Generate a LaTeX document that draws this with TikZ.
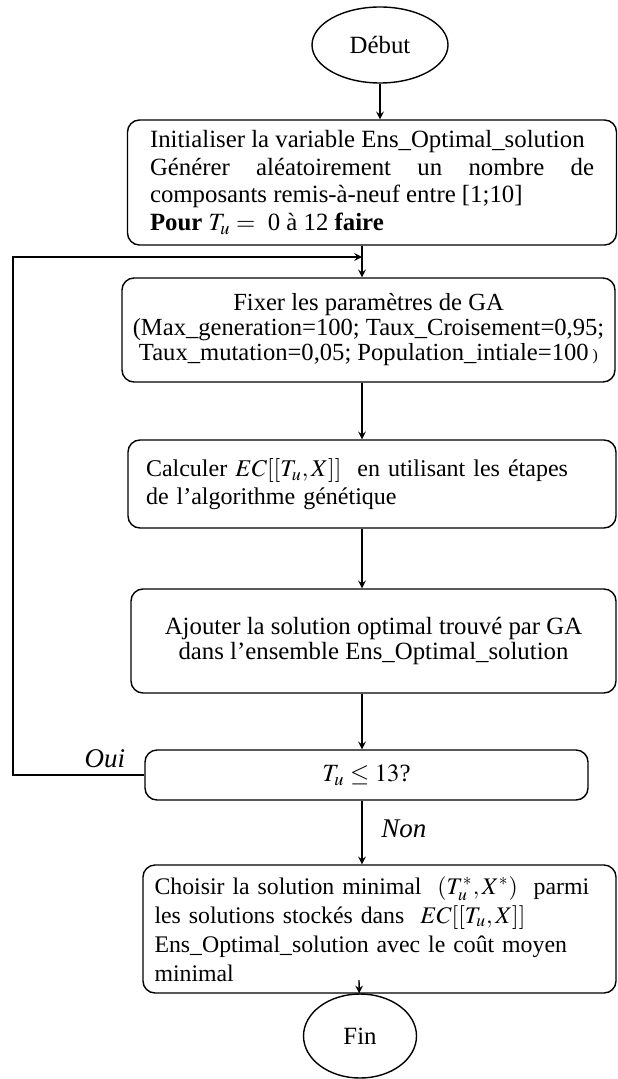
\documentclass[tikz,border=0pt]{standalone}
\usepackage{mathptmx}
\usepackage{fontspec}
\setmainfont{Liberation Serif}
\usepackage{tikz}
\usetikzlibrary{shapes, arrows, positioning}

\begin{document}
\begin{tikzpicture}[x=0.5pt, y=-0.5pt, font=\fontsize{12.4}{13.8}\selectfont]

\tikzstyle{terminal} = [ellipse, draw=black, line width=0.7pt, inner sep=0pt]
\tikzstyle{process} = [rectangle, rounded corners=6pt, draw=black, line width=0.7pt, inner sep=0pt]
\tikzstyle{arrow} = [line width=0.7pt, ->, >=stealth]
\tikzstyle{answer} = [font=\fontsize{13.5}{14}\selectfont\itshape]

\useasboundingbox (0,0) rectangle (617,1079);

% start
\node (debut)[terminal, minimum width=68pt, minimum height=38pt] at (380,45) {Début};

% init
\node (init)[process, minimum width=244.5pt, minimum height=62.5pt, text width=222pt, align=justify] at (372,182.5){
    Initialiser la variable Ens\_Optimal\_solution\\
    Générer aléatoirement un nombre de\linebreak
    composants remis-à-neuf entre [1;10]\\
    \textbf{Pour} $T_u =$~~0 à 12 \textbf{faire}
};

% GA parameters
\node (fixer)[process, minimum width=246.5pt, minimum height=52pt, align=center, font=\fontsize{12.3}{12.5}\selectfont] at (368.5,330){
    Fixer les paramètres de GA\\
    (Max\_generation=100; Taux\_Croisement=0,95;\\
    Taux\_mutation=0,05; Population\_intiale=100\,{\footnotesize)}
};

% GA steps
\node (calc)[process, minimum width=244pt, minimum height=44pt, text width=226pt, align=left, font=\fontsize{12}{14}\selectfont] at (372,484){
    Calculer~$EC[[T_u,X]]$~~en utilisant les étapes\\
    de l'algorithme génétique
};

\node (ajout)[process, minimum width=242.5pt, minimum height=52pt, align=center, font=\fontsize{12.4}{12.5}\selectfont] at (373.5,641){
    Ajouter la solution optimal trouvé par GA\\
    dans l'ensemble Ens\_Optimal\_solution
};

% test
\node (dec)[process, minimum width=221.5pt, minimum height=25pt] at (366.5,775){$T_u \le 13$?};

% result
\node (choisir)[process, minimum width=236.5pt, minimum height=64pt, text width=225pt, align=left, font=\fontsize{11.9}{14.5}\selectfont] at (379.5,929){
    Choisir la solution minimal~~$(T_u^*,X^*)$~~parmi\\
    les solutions stockés dans~~$EC[[T_u,X]]$\\
    Ens\_Optimal\_solution avec le coût moyen\\
    minimal
};

% end
\node (fin)[terminal, minimum width=56.5pt, minimum height=42pt] at (360,1036) {Fin};

% helper points
\coordinate (col) at (362,0);
\coordinate (entry) at (362,257);
\coordinate (loopleft) at (13,257);
\coordinate (finstart) at (359,980);

% arrows
\draw[arrow] (debut) -- (init.north -| debut);
\draw[arrow] (init.south -| col) -- (fixer.north -| col);
\draw[arrow] (fixer.south -| col) -- (calc.north -| col);
\draw[arrow] (calc.south -| col) -- (ajout.north -| col);
\draw[arrow] (ajout.south -| col) -- (dec.north -| col);
\draw[arrow] (dec.south -| col) -- node[right, xshift=6pt, yshift=2pt, answer]{Non} (choisir.north -| col);
\draw[arrow] (dec.west) -| node[pos=0.15, above, answer]{Oui} (loopleft) -- (entry);
\draw[arrow] (finstart) -- (fin);

\end{tikzpicture}
\end{document}
